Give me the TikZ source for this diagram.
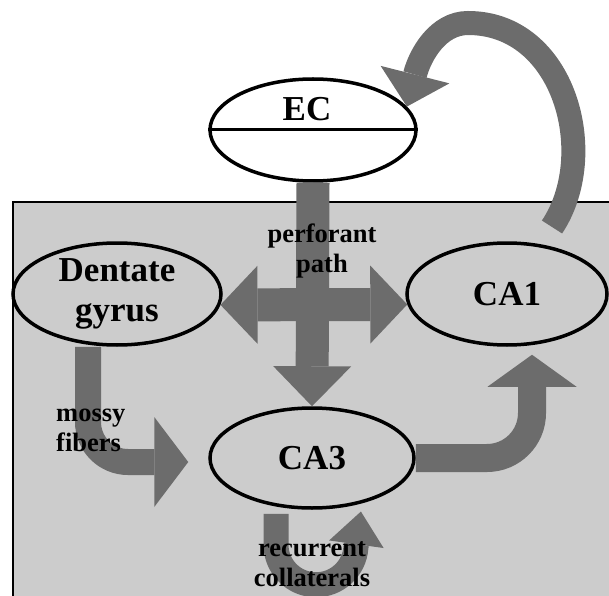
\documentclass[tikz,border=0pt]{standalone}
\usepackage{fontspec}
\setmainfont{Liberation Serif}
\usetikzlibrary{shapes.geometric, arrows.meta, positioning}
\definecolor{boxgray}{RGB}{204, 204, 204}
\definecolor{pathgray}{RGB}{108, 108, 108}
\tikzset{
  region/.style={ellipse, draw=black, line width=3.5pt, inner sep=0pt,
                 minimum width=206pt, minimum height=102pt, align=center,
                 font=\fontsize{35}{40}\selectfont\bfseries},
  pathlabel/.style={inner sep=0pt, align=center, text=black,
                 font=\fontsize{26.5}{30}\selectfont\bfseries},
  tract/.style={draw=pathgray, line width=#1}
}

\begin{document}
\begin{tikzpicture}[x=1pt, y=1pt]
  \useasboundingbox (0,0) rectangle (609,595);
  % hippocampus box
  \fill[boxgray] (13,-5) rectangle (615,393);
  \draw[line width=1.2pt] (615,393) -- (13,393) -- (13,-5);

  % regions
  \node[region] (ec) at (313,465) {};
  \draw[line width=3pt] (ec.west) -- (ec.east);
  \node[font=\fontsize{35}{40}\selectfont\bfseries, inner sep=0pt]
       (eclabel) at ([xshift=-6pt, yshift=21pt]ec.center) {EC};
  \node[region, minimum width=208pt] (dentate) at (117,301) {Dentate\\gyrus};
  \node[region, minimum width=200pt] (ca1) at (507,301) {CA1};
  \node[region, minimum width=204pt, minimum height=100pt] (ca3) at (312,137) {CA3};
  \coordinate (loopstart) at (552,368);

  % pathways
  \draw[tract=33pt, -{Triangle[length=40pt, width=78pt, line width=0pt]}]
       (ec.south) -- (ca3.north);
  \draw[tract=33pt, {Triangle[length=37pt, width=78pt, line width=0pt]}-{Triangle[length=37pt, width=78pt, line width=0pt]}]
       (dentate.-6) -- (ca1.186);
  \draw[tract=26pt, rounded corners=40pt, -{Triangle[length=34pt, width=90pt, line width=0pt]}]
       ([xshift=-29pt]dentate.south) |- ([xshift=-20pt, yshift=-4pt]ca3.west);
  \draw[tract=28pt, rounded corners=45pt, -{Triangle[length=32pt, width=89pt, line width=0pt]}]
       (ca3.east) -| ([xshift=25pt, yshift=-8pt]ca1.south);
  \draw[tract=25pt, -{Triangle[length=33pt, width=55pt, line width=0pt]}]
       ([xshift=-36pt, yshift=-4pt]ca3.south) -- ++(0,-31)
       arc[start angle=180, end angle=356, radius=40] -- ++(5,36);
  \draw[tract=24pt, -{Triangle[length=33pt, width=71pt, line width=0pt]}]
       (loopstart) .. controls (600,440) and (565,572) .. (468,572)
       .. controls (438,572) and (420,540) .. (ec.14);

  % pathway labels
  \node[pathlabel] (perflabel) at (322,344) {perforant\\path};
  \node[pathlabel, align=left, anchor=west] (mossylabel) at (56,165) {mossy\\fibers};
  \node[pathlabel] (reclabel) at (312,31) {recurrent\\collaterals};
\end{tikzpicture}
\end{document}
